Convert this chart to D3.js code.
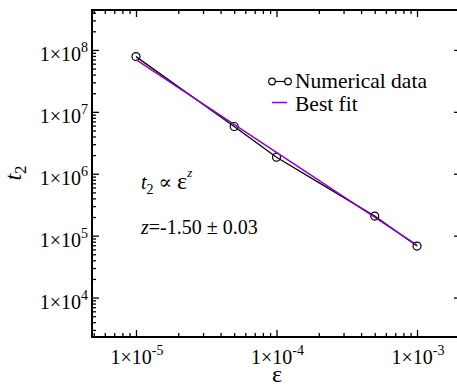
<!DOCTYPE html>
<html>
<head>
<meta charset="utf-8">
<script src="https://cdnjs.cloudflare.com/ajax/libs/d3/7.8.5/d3.min.js"></script>
<style>
  body { margin: 0; background: #fff; }
  svg text { font-family: "Liberation Serif", "Times New Roman", Times, "DejaVu Serif", serif; fill: #000; }
</style>
</head>
<body>
<div id="chart"></div>
<script>
// data
var epsilon = [1e-5, 5e-5, 1e-4, 5e-4, 1e-3];
var t2 = [7.8e7, 5.8e6, 1.85e6, 2.07e5, 6.8e4];
var fitEps = [1e-5, 1e-3];
var fitT2 = [7.0e7, 7.0e4];
var xMajor = [-5, -4, -3];        // exponents of labelled x ticks
var yMajor = [4, 5, 6, 7, 8];     // exponents of labelled y ticks
var legendLabels = ["Numerical data", "Best fit"];

var W = 457, H = 387;
var m = { left: 92, top: 10, right: 461, bottom: 337 };
var serif = "'Liberation Serif', 'Times New Roman', Times, 'DejaVu Serif', serif";

var svg = d3.select("#chart").append("svg")
    .attr("width", W).attr("height", H)
    .attr("font-family", serif);

var x = d3.scaleLog()
    .domain([Math.pow(10, -5.313), Math.pow(10, -2.687)])
    .range([m.left, m.right]);
var y = d3.scaleLog()
    .domain([Math.pow(10, 3.363), Math.pow(10, 8.645)])
    .range([m.bottom, m.top]);

function minors(scale) {
    var d = scale.domain(), out = [];
    var lo = Math.floor(Math.log10(d[0])), hi = Math.ceil(Math.log10(d[1]));
    for (var k = lo; k <= hi; k++) {
        for (var j = 2; j <= 9; j++) {
            var v = j * Math.pow(10, k);
            if (v > d[0] && v < d[1]) out.push(v);
        }
    }
    return out;
}
var xMaj = xMajor.map(function (e) { return Math.pow(10, e); });
var yMaj = yMajor.map(function (e) { return Math.pow(10, e); });

// axes: ticks point inward on all four sides
function drawAxis(axisFn, scale, transform, vals, len) {
    var g = svg.append("g").attr("transform", transform)
        .call(axisFn(scale).tickValues(vals).tickSize(len).tickFormat(""));
    g.select(".domain").remove();
    g.selectAll(".tick line").attr("stroke", "#000").attr("stroke-width", 1.3);
    return g;
}
drawAxis(d3.axisBottom, x, "translate(0," + m.bottom + ")", xMaj, -7);
drawAxis(d3.axisBottom, x, "translate(0," + m.bottom + ")", minors(x), -4);
drawAxis(d3.axisTop, x, "translate(0," + m.top + ")", xMaj, -7);
drawAxis(d3.axisTop, x, "translate(0," + m.top + ")", minors(x), -4);
drawAxis(d3.axisLeft, y, "translate(" + m.left + ",0)", yMaj, -7);
drawAxis(d3.axisLeft, y, "translate(" + m.left + ",0)", minors(y), -4);
drawAxis(d3.axisRight, y, "translate(" + m.right + ",0)", yMaj, -7);
drawAxis(d3.axisRight, y, "translate(" + m.right + ",0)", minors(y), -4);

// frame
svg.append("rect")
    .attr("x", m.left).attr("y", m.top)
    .attr("width", m.right - m.left).attr("height", m.bottom - m.top)
    .attr("fill", "none").attr("stroke", "#000").attr("stroke-width", 2);

// tick labels 1x10^n
function sciLabel(g, e) {
    g.append("tspan").text("1\u00d710");
    g.append("tspan").attr("dy", -9).attr("font-size", 14).text(e);
}
xMajor.forEach(function (e) {
    var t = svg.append("text")
        .attr("x", x(Math.pow(10, e)) + 1).attr("y", 364)
        .attr("text-anchor", "middle").attr("font-size", 20);
    sciLabel(t, e);
});
yMajor.forEach(function (e) {
    var t = svg.append("text")
        .attr("x", 88).attr("y", y(Math.pow(10, e)) + 11.5)
        .attr("text-anchor", "end").attr("font-size", 20);
    sciLabel(t, e);
});

// axis titles
svg.append("text")
    .attr("x", 277).attr("y", 382)
    .attr("text-anchor", "middle").attr("font-size", 24)
    .text("\u03b5");
var yt = svg.append("text")
    .attr("transform", "translate(21,173) rotate(-90)")
    .attr("text-anchor", "middle").attr("font-size", 24);
yt.append("tspan").attr("font-style", "italic").text("t");
yt.append("tspan").attr("dy", 5).attr("font-size", 17).text("2");

// series
var line = d3.line()
    .x(function (d) { return x(d[0]); })
    .y(function (d) { return y(d[1]); });
var dataPts = d3.zip(epsilon, t2);

svg.append("path").datum(dataPts)
    .attr("d", line).attr("fill", "none")
    .attr("stroke", "#000").attr("stroke-width", 1.3);
svg.selectAll(".pt").data(dataPts).enter().append("circle")
    .attr("class", "pt")
    .attr("cx", function (d) { return x(d[0]); })
    .attr("cy", function (d) { return y(d[1]); })
    .attr("r", 4).attr("fill", "none")
    .attr("stroke", "#000").attr("stroke-width", 1.2);
svg.append("path").datum(d3.zip(fitEps, fitT2))
    .attr("d", line).attr("fill", "none")
    .attr("stroke", "#9400d3").attr("stroke-width", 1.5);

// legend
var lg = svg.append("g");
lg.append("line").attr("x1", 272).attr("x2", 288).attr("y1", 81.5).attr("y2", 81.5)
    .attr("stroke", "#000").attr("stroke-width", 1.2);
[272, 288].forEach(function (cx) {
    lg.append("circle").attr("cx", cx).attr("cy", 81.5).attr("r", 3.3)
        .attr("fill", "#fff").attr("stroke", "#000").attr("stroke-width", 1.2);
});
lg.append("line").attr("x1", 272).attr("x2", 287).attr("y1", 102.5).attr("y2", 102.5)
    .attr("stroke", "#9400d3").attr("stroke-width", 1.5);
legendLabels.forEach(function (s, i) {
    lg.append("text").attr("x", 295).attr("y", 88 + i * 22.5)
        .attr("font-size", 21.5).text(s);
});

// annotation
var a1 = svg.append("text").attr("x", 141).attr("y", 189).attr("font-size", 20);
a1.append("tspan").attr("font-style", "italic").text("t");
a1.append("tspan").attr("dy", 5).attr("font-size", 14).text("2");
a1.append("tspan").attr("dy", -5).text(" \u221d ");
a1.append("tspan").attr("font-size", 24).text("\u03b5");
a1.append("tspan").attr("dy", -12).attr("font-size", 13).attr("font-style", "italic").text("z");
var a2 = svg.append("text").attr("x", 141).attr("y", 234).attr("font-size", 20);
a2.append("tspan").attr("font-style", "italic").text("z");
a2.append("tspan").text("=-1.50 \u00b1 0.03");
</script>
</body>
</html>
